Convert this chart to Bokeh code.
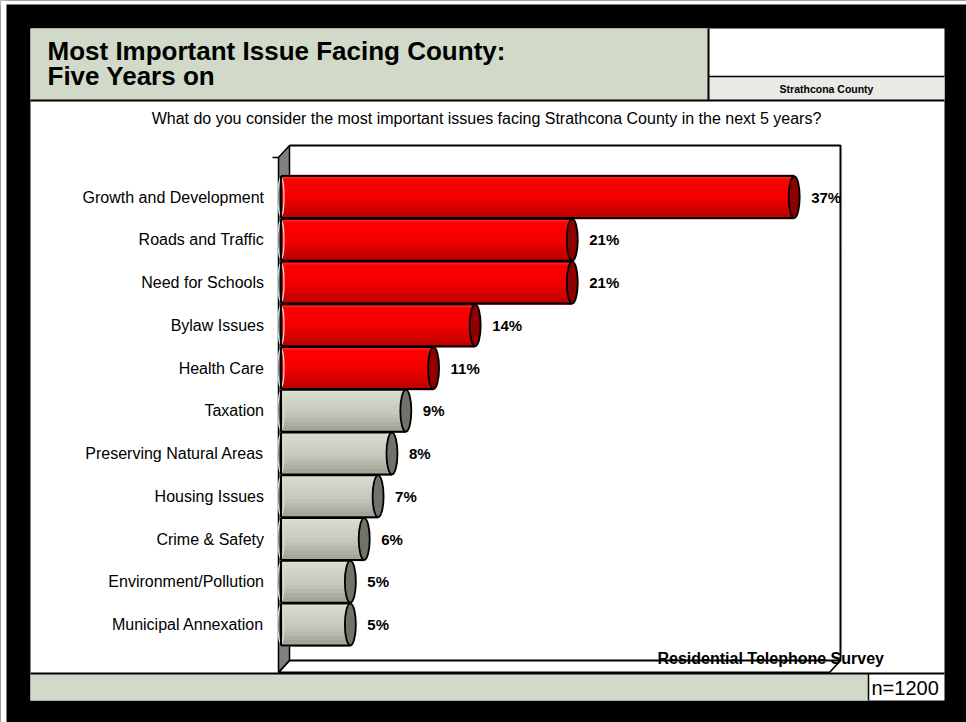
from bokeh.plotting import figure
from bokeh.models import Range1d, ColumnDataSource
from bokeh.core.properties import value
from bokeh.embed import file_html
from bokeh.resources import INLINE

# ---------------- data ----------------
title_lines = ["Most Important Issue Facing County:", "Five Years on"]
subtitle = "What do you consider the most important issues facing Strathcona County in the next 5 years?"
region_label = "Strathcona County"
survey_label = "Residential Telephone Survey"
sample_label = "n=1200"

categories = ["Growth and Development", "Roads and Traffic", "Need for Schools",
              "Bylaw Issues", "Health Care", "Taxation", "Preserving Natural Areas",
              "Housing Issues", "Crime & Safety", "Environment/Pollution",
              "Municipal Annexation"]
percent = [37, 21, 21, 14, 11, 9, 8, 7, 6, 5, 5]
top_n = 5  # the first five issues are highlighted in red

# ---------------- layout (pixels) ----------------
W, H = 966, 722
ZERO_PX = 280.5
PX_PER_PCT = 13.87
ROW0_PX = 196.5
ROW_PX = 42.75


def X(px):
    return (px - ZERO_PX) / PX_PER_PCT


def Y(py):
    return (py - ROW0_PX) / ROW_PX


HEADER_GREEN = "#D1D9C9"
SANS = value("Liberation Sans")

p = figure(width=W, height=H, x_range=Range1d(X(0), X(W)), y_range=Range1d(Y(H), Y(0)),
           output_backend="svg", toolbar_location=None, min_border=0,
           x_axis_location=None, y_axis_location=None,
           background_fill_color="black", border_fill_color="black",
           outline_line_color=None)
p.xgrid.visible = False
p.ygrid.visible = False


def box(x0, y0, x1, y1, fill):
    p.quad(left=X(x0), right=X(x1), top=Y(y0), bottom=Y(y1),
           fill_color=fill, line_color=None)


def poly(pts, width=2, color="black"):
    p.line(x=[X(a) for a, b in pts], y=[Y(b) for a, b in pts],
           line_width=width, line_color=color)


# page frame
box(0, 0, W, 4, "white")
box(0, 0, 6, H, "white")
box(30, 28, 944, 700, "white")
box(30, 28, 708, 100, HEADER_GREEN)
box(708, 76, 944, 100, "#E9E9E5")
box(30, 673, 868, 700, HEADER_GREEN)
poly([(708, 28), (708, 100)], 2)
poly([(708, 76), (944, 76)], 1.5)
poly([(30, 100), (944, 100)], 2)
poly([(30, 673), (944, 673)], 2)
poly([(868, 673), (868, 700)], 1.5)

# header texts
p.text(x=[X(47), X(47)], y=[Y(50), Y(75)], text=title_lines, text_baseline="alphabetic",
       text_font=SANS, text_font_style="bold", text_font_size="26px",
       text_color="black")
p.text(x=[X(826)], y=[Y(88)], text=[region_label], text_align="center",
       text_baseline="middle", text_font=SANS, text_font_style="bold",
       text_font_size="10.5px", text_color="black")
p.text(x=[X(486)], y=[Y(118)], text=[subtitle], text_align="center",
       text_baseline="middle", text_font=SANS, text_font_size="16px",
       text_color="black")
p.text(x=[X(871)], y=[Y(687.5)], text=[sample_label], text_align="left",
       text_baseline="middle", text_font=SANS, text_font_size="20px",
       text_color="black")

# survey label (drawn under the floor lines, as in the original)
p.text(x=[X(657)], y=[Y(658)], text=[survey_label], text_align="left",
       text_baseline="middle", text_font=SANS, text_font_style="bold",
       text_font_size="16px", text_color="black")

# 3D chart frame
D_X, D_Y = 11, 12
FL, FT, FB = 278, 157, 672       # front plane left / top / bottom
BR = 840                          # back wall right
p.patch(x=[X(FL), X(FL + D_X), X(FL + D_X), X(FL)],
        y=[Y(FT), Y(FT - D_Y), Y(FB - D_Y), Y(FB)],
        fill_color="#808080", line_color="black", line_width=1.5)
poly([(FL + D_X, FT - D_Y), (BR, FT - D_Y), (BR, FB - D_Y)], 2)
p.patch(x=[X(FL), X(FL + D_X), X(BR), X(BR - D_X)],
        y=[Y(FB), Y(FB - D_Y), Y(FB - D_Y), Y(FB)],
        fill_color=None, line_color="black", line_width=1.8)
poly([(272, FT), (FL, FT)], 1.5)


# ---------------- bars ----------------
def grad(stops, t):
    for (t0, c0), (t1, c1) in zip(stops, stops[1:]):
        if t <= t1:
            f = (t - t0) / (t1 - t0) if t1 > t0 else 0
            return "#%02x%02x%02x" % tuple(int(round(a + (b - a) * f)) for a, b in zip(c0, c1))
    return "#%02x%02x%02x" % stops[-1][1]


red_stops = [(0, (255, 45, 45)), (0.12, (255, 0, 0)), (0.55, (242, 0, 0)), (1, (188, 0, 0))]
gray_stops = [(0, (222, 226, 214)), (0.2, (212, 216, 202)), (0.6, (196, 199, 186)), (1, (158, 161, 148))]

BAR_H = 0.98
N = 10
sy, sr, sc = [], [], []
idx = list(range(len(categories)))
for i, v in enumerate(percent):
    stops = red_stops if i < top_n else gray_stops
    for k in range(N):
        sy.append(i - BAR_H / 2 + (k + 0.5) * BAR_H / N)
        sr.append(v)
        sc.append(grad(stops, (k + 0.5) / N))
slices = ColumnDataSource(dict(y=sy, right=sr, color=sc))
p.hbar(y="y", left=0, right="right", height=BAR_H / N * 1.6, source=slices,
       fill_color="color", line_color=None)

# light crescent at the left end of each cylinder
p.ellipse(x=[0] * len(idx), y=idx, width=6, height=BAR_H * 0.9,
          width_units="screen", height_units="data",
          fill_color=None, line_color="#DADADA", line_width=1.2)

# outlines
tops = [i - BAR_H / 2 for i in idx]
bots = [i + BAR_H / 2 for i in idx]
p.segment(x0=[0] * len(idx), y0=tops, x1=percent, y1=tops, line_color="black", line_width=2)
p.segment(x0=[0] * len(idx), y0=bots, x1=percent, y1=bots, line_color="black", line_width=2)
p.segment(x0=[0] * len(idx), y0=tops, x1=[0] * len(idx), y1=bots, line_color="black", line_width=2)

# end caps
cap_colors = ["#8E0000" if i < top_n else "#6F7369" for i in idx]
p.ellipse(x=percent, y=idx, width=11, height=BAR_H,
          width_units="screen", height_units="data",
          fill_color=cap_colors, line_color="black", line_width=1.8)

# category labels
p.text(x=[0] * len(idx), y=idx, text=categories, x_offset=-17,
       text_align="right", text_baseline="middle", text_font=SANS,
       text_font_size="16px", text_color="black")

# value labels
p.text(x=percent, y=idx, text=[f"{v}%" for v in percent], x_offset=17,
       text_align="left", text_baseline="middle", text_font=SANS,
       text_font_style="bold", text_font_size="15px", text_color="black")

open("out.html", "w").write(file_html(p, INLINE))
